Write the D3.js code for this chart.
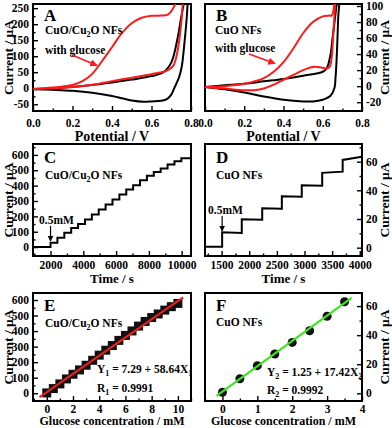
<!DOCTYPE html>
<html>
<head>
<meta charset="utf-8">
<script src="https://d3js.org/d3.v7.min.js"></script>
<style>
    body { margin: 0; background: #fff; }
    svg text { font-family: "Liberation Serif", "Times New Roman", serif; font-weight: bold; fill: #000; }
    .tick line { stroke: #000; stroke-width: 1.4px; }
    .domain { display: none; }
</style>
</head>
<body>
<svg id="chart" width="392" height="428"></svg>
<script>
// ---- A: CV of CuO/Cu2O NFs (potential V, current uA)
var aBlackFwdV = [0, 0.1, 0.2, 0.3, 0.4, 0.5, 0.6, 0.66, 0.7, 0.73, 0.75, 0.77];
var aBlackFwdI = [-3, 0, 4, 10, 18, 27, 38, 50, 80, 150, 220, 285];
var aBlackRevV = [0.785, 0.778, 0.765, 0.753, 0.74, 0.727, 0.715, 0.7, 0.68, 0.65, 0.6, 0.56, 0.5, 0.45, 0.4, 0.3, 0.2, 0.1, 0];
var aBlackRevI = [285, 217, 130, 67, 35, 16, 0, -20, -33, -39, -41, -42, -38, -31, -24, -14, -8, -5, -3];
var aRedFwdV = [0, 0.1, 0.2, 0.25, 0.3, 0.35, 0.4, 0.45, 0.5, 0.55, 0.6, 0.65, 0.68, 0.7, 0.72, 0.74];
var aRedFwdI = [-2, 2, 10, 22, 45, 85, 128, 172, 203, 220, 226, 227, 229, 240, 262, 285];
var aRedRevV = [0.76, 0.75, 0.73, 0.71, 0.68, 0.65, 0.6, 0.5, 0.4, 0.3, 0.2, 0.1, 0];
var aRedRevI = [285, 200, 110, 70, 56, 50, 44, 33, 22, 11, 4, 0, -2];

// ---- B: CV of CuO NFs
var bBlackFwdV = [0, 0.1, 0.2, 0.3, 0.4, 0.5, 0.6, 0.62, 0.64, 0.65, 0.66, 0.67, 0.68];
var bBlackFwdI = [-1, 1, 3, 6, 9, 13, 18, 22, 40, 60, 80, 100, 115];
var bBlackRevV = [0.69, 0.68, 0.675, 0.67, 0.665, 0.66, 0.64, 0.62, 0.6, 0.55, 0.5, 0.4, 0.3, 0.2, 0.1, 0];
var bBlackRevI = [115, 90, 60, 30, 10, -2, -12, -15, -17, -19, -19, -17, -13, -8, -4, -1];
var bRedFwdV = [0, 0.1, 0.2, 0.3, 0.35, 0.4, 0.45, 0.5, 0.55, 0.6, 0.63, 0.645, 0.655, 0.66];
var bRedFwdI = [-1, 0, 3, 10, 18, 30, 47, 66, 80, 87, 88, 88, 95, 110];
var bRedRevV = [0.665, 0.655, 0.645, 0.635, 0.62, 0.6, 0.55, 0.5, 0.45, 0.4, 0.35, 0.3, 0.25, 0.2, 0.1, 0];
var bRedRevI = [110, 70, 35, 24, 22, 23, 24, 20, 14, 8, 2, -3, -5, -5, -3, -1];

// ---- C: amperometric steps, CuO/Cu2O NFs (time s, current uA)
var cTimeRange = [930, 10570];
var cStepTimes = [2000, 2420, 2840, 3260, 3680, 4100, 4520, 4940, 5360, 5780, 6200, 6620, 7040, 7460, 7880, 8300, 8720, 9140, 9560, 9980];
var cLevels = [0, 28, 60, 93, 125, 150, 180, 212, 245, 277, 310, 342, 375, 403, 435, 465, 489, 511, 537, 558, 578];

// ---- D: amperometric steps, CuO NFs
var dTimeRange = [1200, 4040];
var dStepTimes = [1510, 1865, 2235, 2590, 2950, 3320, 3690];
var dLevelStart = [0.7, 10.8, 19.8, 27.5, 35.8, 43.5, 52.2, 61.2];
var dLevelEnd = [0.7, 10.3, 19.5, 27.2, 35.5, 43.2, 53.0, 63.5];

// ---- E: calibration CuO/Cu2O NFs
var eConc = [0, 0.5, 1, 1.5, 2, 2.5, 3, 3.5, 4, 4.5, 5, 5.5, 6, 6.5, 7, 7.5, 8, 8.5, 9, 9.5, 10];
var eCurrent = [2, 30, 60, 92, 122, 150, 180, 212, 245, 277, 307, 340, 372, 401, 432, 462, 487, 510, 535, 557, 578];
var eFit = [7.29, 58.64];     // intercept, slope
var eFitRange = [-0.55, 10.4];

// ---- F: calibration CuO NFs
var fConc = [0, 0.5, 1, 1.5, 2, 2.5, 3, 3.5];
var fCurrent = [0.7, 10, 19, 27, 35, 43, 53, 63];
var fFit = [1.25, 17.42];
var fFitRange = [-0.17, 3.7];

var svg = d3.select("#chart");
var defs = svg.append("defs");
var intFmt = function(d) { return d3.format("d")(d).replace("\u2212", "-"); };

function arrowMarker(id, color) {
    defs.append("marker")
        .attr("id", id)
        .attr("viewBox", "0 0 10 10")
        .attr("refX", 9).attr("refY", 5)
        .attr("markerWidth", 5).attr("markerHeight", 5)
        .attr("orient", "auto")
        .append("path")
        .attr("d", "M0,0 L10,5 L0,10 z")
        .attr("fill", color);
}
arrowMarker("arrRed", "#ff1a1a");
arrowMarker("arrBlack", "#000");

function zip(a, b) { return a.map(function(v, i) { return [v, b[i]]; }); }

// builds one framed panel with inward ticks
function panel(o) {
    var x = d3.scaleLinear().domain(o.xDomain).range([o.x0, o.x1]);
    var y = d3.scaleLinear().domain(o.yDomain).range([o.y1, o.y0]);
    var g = svg.append("g");

    defs.append("clipPath").attr("id", "clip" + o.id)
        .append("rect")
        .attr("x", o.x0).attr("y", o.y0)
        .attr("width", o.x1 - o.x0).attr("height", o.y1 - o.y0);

    var bottom = g.append("g").attr("transform", "translate(0," + o.y1 + ")");
    bottom.append("g").call(d3.axisBottom(x).tickValues(o.xMinor).tickSize(-2.5).tickFormat(""));
    bottom.append("g").call(d3.axisBottom(x).tickValues(o.xTicks).tickSize(-5).tickPadding(o.xPad).tickFormat(o.xFmt))
        .selectAll("text").style("font-size", "11.5px");

    var side = o.right ? d3.axisRight : d3.axisLeft;
    var sideG = g.append("g").attr("transform", "translate(" + (o.right ? o.x1 : o.x0) + ",0)");
    sideG.append("g").call(side(y).tickValues(o.yMinor).tickSize(-2.5).tickFormat(""));
    sideG.append("g").call(side(y).tickValues(o.yTicks).tickSize(-5).tickPadding(4).tickFormat(intFmt))
        .selectAll("text").style("font-size", "11.5px");

    g.append("rect")
        .attr("x", o.x0).attr("y", o.y0)
        .attr("width", o.x1 - o.x0).attr("height", o.y1 - o.y0)
        .attr("fill", "none").attr("stroke", "#000").attr("stroke-width", 2);

    g.append("text")
        .attr("x", (o.x0 + o.x1) / 2).attr("y", o.y1 + o.titleDy)
        .attr("text-anchor", "middle").style("font-size", o.titleSize + "px")
        .text(o.xTitle);

    var ty = (o.y0 + o.y1) / 2;
    var tx = o.right ? o.x1 + 27 : o.x0 - 20;
    g.append("text")
        .attr("transform", "translate(" + tx + "," + ty + ") rotate(-90)")
        .attr("text-anchor", "middle").style("font-size", "13.5px")
        .text("Current / \u03bcA");

    var plot = g.append("g").attr("clip-path", "url(#clip" + o.id + ")");
    return { x: x, y: y, g: g, plot: plot };
}

function curve(p, pts, color) {
    p.plot.append("path")
        .datum(pts)
        .attr("fill", "none").attr("stroke", color).attr("stroke-width", 2)
        .attr("stroke-linejoin", "round")
        .attr("d", d3.line().curve(d3.curveCatmullRom).x(function(d) { return p.x(d[0]); }).y(function(d) { return p.y(d[1]); }));
}

function stairs(p, range, times, start, end) {
    var pts = [];
    var edges = [range[0]].concat(times, [range[1]]);
    for (var i = 0; i < start.length; i++) {
        pts.push([edges[i], start[i]]);
        pts.push([edges[i + 1], end[i]]);
    }
    p.plot.append("path")
        .datum(pts)
        .attr("fill", "none").attr("stroke", "#000").attr("stroke-width", 2)
        .attr("d", d3.line().x(function(d) { return p.x(d[0]); }).y(function(d) { return p.y(d[1]); }));
}

function label(g, x, y, txt, size) {
    return g.append("text").attr("x", x).attr("y", y).style("font-size", size + "px").text(txt);
}

function cuLabel(g, x, y) {
    var t = g.append("text").attr("x", x).attr("y", y).style("font-size", "11.5px");
    t.append("tspan").text("CuO/Cu");
    t.append("tspan").attr("dy", 3).style("font-size", "8px").text("2");
    t.append("tspan").attr("dy", -3).text("O NFs");
}

function subText(g, x, y, parts) {
    var t = g.append("text").attr("x", x).attr("y", y).style("font-size", "11.5px");
    parts.forEach(function(p) {
        if (p.sub) t.append("tspan").attr("dy", 3).style("font-size", "8px").text(p.sub);
        else t.append("tspan").attr("dy", p.up ? -3 : 0).text(p.t);
    });
}

// ---------- A
var pA = panel({ id: "A", x0: 33, x1: 191, y0: 4, y1: 111,
    xDomain: [0, 0.8], yDomain: [-71, 263],
    xTicks: [0, 0.2, 0.4, 0.6, 0.8], xMinor: [0.1, 0.3, 0.5, 0.7],
    yTicks: [-50, 0, 50, 100, 150, 200, 250], yMinor: [-25, 25, 75, 125, 175, 225],
    xFmt: d3.format(".1f"), xTitle: "Potential / V", xPad: 8, titleDy: 30, titleSize: 14 });
curve(pA, zip(aBlackFwdV, aBlackFwdI), "#000");
curve(pA, zip(aBlackRevV, aBlackRevI), "#000");
curve(pA, zip(aRedFwdV, aRedFwdI), "#ff1a1a");
curve(pA, zip(aRedRevV, aRedRevI), "#ff1a1a");
label(pA.g, 44, 21, "A", 17);
cuLabel(pA.g, 45, 34);
label(pA.g, 45, 54, "with glucose", 11.5);
pA.g.append("line").attr("x1", 72).attr("y1", 55).attr("x2", 97).attr("y2", 65.5)
    .attr("stroke", "#ff1a1a").attr("stroke-width", 1.5).attr("marker-end", "url(#arrRed)");

// ---------- B
var pB = panel({ id: "B", right: true, x0: 205, x1: 362, y0: 4, y1: 111,
    xDomain: [0, 0.8], yDomain: [-31, 102.5],
    xTicks: [0, 0.2, 0.4, 0.6, 0.8], xMinor: [0.1, 0.3, 0.5, 0.7],
    yTicks: [-20, 0, 20, 40, 60, 80, 100], yMinor: [-10, 10, 30, 50, 70, 90],
    xFmt: d3.format(".1f"), xTitle: "Potential / V", xPad: 8, titleDy: 30, titleSize: 14 });
curve(pB, zip(bBlackFwdV, bBlackFwdI), "#000");
curve(pB, zip(bBlackRevV, bBlackRevI), "#000");
curve(pB, zip(bRedFwdV, bRedFwdI), "#ff1a1a");
curve(pB, zip(bRedRevV, bRedRevI), "#ff1a1a");
label(pB.g, 216, 21, "B", 17);
label(pB.g, 215, 34, "CuO NFs", 11.5);
label(pB.g, 215, 52, "with glucose", 11.5);
pB.g.append("line").attr("x1", 249).attr("y1", 54).attr("x2", 275).attr("y2", 63.5)
    .attr("stroke", "#ff1a1a").attr("stroke-width", 1.5).attr("marker-end", "url(#arrRed)");

// ---------- C
var pC = panel({ id: "C", x0: 33, x1: 191, y0: 144, y1: 256,
    xDomain: cTimeRange, yDomain: [-58, 671],
    xTicks: [2000, 4000, 6000, 8000, 10000], xMinor: [1000, 3000, 5000, 7000, 9000],
    yTicks: [0, 100, 200, 300, 400, 500, 600], yMinor: [-50, 50, 150, 250, 350, 450, 550, 650],
    xFmt: d3.format("d"), xTitle: "Time / s", xPad: 5, titleDy: 27, titleSize: 13 });
stairs(pC, cTimeRange, cStepTimes, cLevels, cLevels);
label(pC.g, 44, 163, "C", 17);
cuLabel(pC.g, 45, 179);
label(pC.g, 39, 224, "0.5mM", 11.5);
pC.g.append("line").attr("x1", pC.x(2000)).attr("y1", 226).attr("x2", pC.x(2000)).attr("y2", 241)
    .attr("stroke", "#000").attr("stroke-width", 1.2).attr("marker-end", "url(#arrBlack)");

// ---------- D
var pD = panel({ id: "D", right: true, x0: 205, x1: 362, y0: 144, y1: 256,
    xDomain: dTimeRange, yDomain: [-5.8, 72.3],
    xTicks: [1500, 2000, 2500, 3000, 3500, 4000], xMinor: [1250, 1750, 2250, 2750, 3250, 3750],
    yTicks: [0, 20, 40, 60], yMinor: [10, 30, 50, 70],
    xFmt: d3.format("d"), xTitle: "Time / s", xPad: 5, titleDy: 27, titleSize: 13 });
stairs(pD, dTimeRange, dStepTimes, dLevelStart, dLevelEnd);
label(pD.g, 216, 163, "D", 17);
label(pD.g, 216, 179, "CuO NFs", 11.5);
label(pD.g, 208, 214, "0.5mM", 11.5);
pD.g.append("line").attr("x1", pD.x(1510)).attr("y1", 216).attr("x2", pD.x(1510)).attr("y2", 231)
    .attr("stroke", "#000").attr("stroke-width", 1.2).attr("marker-end", "url(#arrBlack)");

// ---------- E
var pE = panel({ id: "E", x0: 33, x1: 191, y0: 293, y1: 401,
    xDomain: [-1.05, 11], yDomain: [-50, 645],
    xTicks: [0, 2, 4, 6, 8, 10], xMinor: [-1, 1, 3, 5, 7, 9, 11],
    yTicks: [0, 100, 200, 300, 400, 500, 600], yMinor: [50, 150, 250, 350, 450, 550],
    xFmt: d3.format("d"), xTitle: "Glucose concentration / mM", xPad: 4, titleDy: 24, titleSize: 12 });
pE.plot.selectAll("rect.pt").data(zip(eConc, eCurrent)).enter().append("rect")
    .attr("class", "pt")
    .attr("x", function(d) { return pE.x(d[0]) - 4.5; })
    .attr("y", function(d) { return pE.y(d[1]) - 4.5; })
    .attr("width", 9).attr("height", 9).attr("fill", "#111");
pE.plot.append("line")
    .attr("x1", pE.x(eFitRange[0])).attr("y1", pE.y(eFit[0] + eFit[1] * eFitRange[0]))
    .attr("x2", pE.x(eFitRange[1])).attr("y2", pE.y(eFit[0] + eFit[1] * eFitRange[1]))
    .attr("stroke", "#e8201e").attr("stroke-width", 2.2);
label(pE.g, 44, 311, "E", 17);
cuLabel(pE.g, 45, 327);
subText(pE.g, 97, 373, [{ t: "Y" }, { sub: "1" }, { t: " = 7.29 + 58.64X", up: true }, { sub: "1" }]);
subText(pE.g, 97, 392, [{ t: "R" }, { sub: "1" }, { t: " = 0.9991", up: true }]);

// ---------- F
var pF = panel({ id: "F", right: true, x0: 205, x1: 362, y0: 293, y1: 401,
    xDomain: [-0.5, 4], yDomain: [-5.3, 69],
    xTicks: [0, 1, 2, 3, 4], xMinor: [-0.5, 0.5, 1.5, 2.5, 3.5],
    yTicks: [0, 20, 40, 60], yMinor: [10, 30, 50],
    xFmt: d3.format("d"), xTitle: "Glucose concentration / mM", xPad: 4, titleDy: 24, titleSize: 12 });
pF.plot.selectAll("circle").data(zip(fConc, fCurrent)).enter().append("circle")
    .attr("cx", function(d) { return pF.x(d[0]); })
    .attr("cy", function(d) { return pF.y(d[1]); })
    .attr("r", 4.5).attr("fill", "#111");
pF.plot.append("line")
    .attr("x1", pF.x(fFitRange[0])).attr("y1", pF.y(fFit[0] + fFit[1] * fFitRange[0]))
    .attr("x2", pF.x(fFitRange[1])).attr("y2", pF.y(fFit[0] + fFit[1] * fFitRange[1]))
    .attr("stroke", "#3ee51e").attr("stroke-width", 2.2);
label(pF.g, 216, 311, "F", 17);
label(pF.g, 216, 326, "CuO NFs", 11.5);
subText(pF.g, 267, 376, [{ t: "Y" }, { sub: "2" }, { t: " = 1.25 + 17.42X", up: true }, { sub: "2" }]);
subText(pF.g, 267, 394, [{ t: "R" }, { sub: "2" }, { t: " = 0.9992", up: true }]);
</script>
</body>
</html>
